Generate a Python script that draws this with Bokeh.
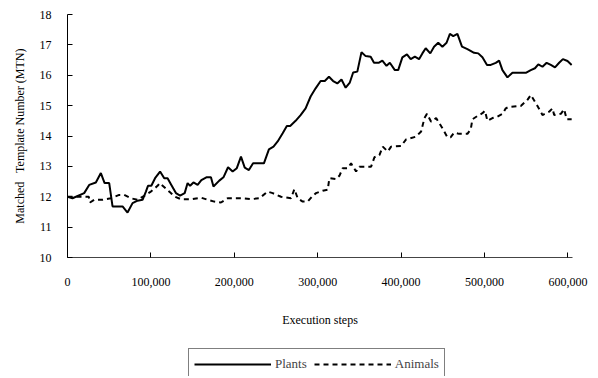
from bokeh.plotting import figure
from bokeh.layouts import column
from bokeh.models import Range1d, FixedTicker, NumeralTickFormatter, Legend, LegendItem
from bokeh.embed import file_html
from bokeh.resources import INLINE

plants_steps = [0, 6000, 20000, 26000, 34000, 40000, 44500, 50000, 54000, 66000, 72000, 78000,
                84000, 90000, 94000, 96500, 100500, 105000, 111000, 116000, 120000, 124500,
                130000, 135000, 140500, 144000, 147000, 151000, 156000, 160500, 166500, 172000,
                175000, 182000, 187000, 192500, 198000, 203000, 208000, 212500, 217500, 222500,
                235500, 241500, 247000, 252000, 258000, 263000, 267000, 273500, 279500, 285500,
                291500, 297500, 303500, 308500, 313500, 318500, 323500, 328500, 333500, 338500,
                342500, 347500, 352500, 357500, 363500, 367500, 373000, 377500, 382500, 386500,
                392500, 396500, 401500, 407000, 411500, 416500, 421500, 425500, 429500, 435000,
                439500, 444500, 449500, 454500, 458500, 462500, 467500, 473000, 479500, 487500,
                492500, 497500, 503000, 507500, 513500, 517500, 521500, 527500, 533500, 549500,
                555500, 560500, 564500, 569500, 574500, 579500, 584500, 589500, 594000, 599500,
                604500]
plants_mtn = [12.0, 11.95, 12.12, 12.39, 12.47, 12.78, 12.45, 12.45, 11.68, 11.68, 11.48, 11.79,
              11.87, 11.9, 12.17, 12.36, 12.36, 12.61, 12.83, 12.61, 12.61, 12.39,
              12.12, 12.04, 12.12, 12.45, 12.36, 12.47, 12.39, 12.55, 12.64, 12.64,
              12.34, 12.53, 12.64, 12.97, 12.83, 12.94, 13.32, 12.96, 12.88, 13.1,
              13.1, 13.56, 13.65, 13.82, 14.09, 14.33, 14.33, 14.5, 14.69, 14.91,
              15.3, 15.57, 15.81, 15.81, 15.95, 15.81, 15.73, 15.86, 15.59, 15.76,
              16.09, 16.12, 16.76, 16.63, 16.61, 16.41, 16.41, 16.48, 16.31, 16.41,
              16.17, 16.17, 16.59, 16.69, 16.53, 16.61, 16.53, 16.72, 16.89, 16.72,
              16.94, 17.07, 16.94, 17.07, 17.36, 17.29, 17.36, 16.94, 16.86, 16.74,
              16.72, 16.59, 16.34, 16.34, 16.41, 16.48, 16.17, 15.93, 16.08, 16.08,
              16.17, 16.23, 16.36, 16.28, 16.41, 16.34, 16.26, 16.41, 16.53, 16.47,
              16.34]

animals_steps = [0, 25500, 27000, 32000, 42000, 52000, 62000, 68000, 76000, 84000, 92000,
                 100000, 108000, 110500, 120000, 124000, 130000, 136000, 148000, 160000,
                 168000, 176000, 184000, 192000, 208000, 220000, 230000, 240000, 246000,
                 256000, 268000, 272000, 276000, 282000, 288000, 294000, 298000, 306000,
                 312000, 314000, 322000, 326000, 330000, 336000, 340000, 346000, 350000,
                 364000, 368000, 374000, 378000, 384000, 388000, 400000, 406000, 418000,
                 424000, 428000, 431000, 436000, 442000, 449000, 455500, 459500, 463500,
                 469500, 479500, 483500, 485500, 491500, 497500, 500500, 503500, 509500,
                 515500, 521500, 525500, 528500, 543500, 551500, 555500, 563500, 569500,
                 577500, 581500, 583500, 591500, 595500, 598500, 604500]
animals_mtn = [12.0, 12.0, 11.81, 11.9, 11.9, 11.95, 12.06, 12.06, 11.95, 11.9, 12.03,
               12.17, 12.36, 12.45, 12.22, 12.12, 11.99, 11.92, 11.92, 11.97,
               11.9, 11.84, 11.81, 11.95, 11.95, 11.92, 11.95, 12.17, 12.12,
               12.0, 11.95, 12.25, 11.95, 11.84, 11.84, 12.03, 12.12, 12.2,
               12.23, 12.61, 12.58, 12.69, 12.94, 12.94, 13.1, 12.83, 12.99,
               12.99, 13.3, 13.37, 13.65, 13.49, 13.65, 13.67, 13.89, 13.98,
               14.15, 14.59, 14.73, 14.47, 14.59, 14.28, 13.96, 13.96, 14.11,
               14.07, 14.07, 14.22, 14.55, 14.66, 14.75, 14.83, 14.5, 14.59,
               14.64, 14.73, 14.91, 14.95, 14.99, 15.19, 15.35, 14.99, 14.69,
               14.8, 14.91, 14.69, 14.73, 14.88, 14.55, 14.55]

x_ticks = [0, 100000, 200000, 300000, 400000, 500000, 600000]
y_ticks = [10, 11, 12, 13, 14, 15, 16, 17, 18]
series_names = ["Plants", "Animals"]

FONT = "Liberation Serif"
DASH = "5 4"

p = figure(width=596, height=345, output_backend="svg", toolbar_location=None,
           x_range=Range1d(0, 605500), y_range=Range1d(10, 18),
           min_border_left=67, min_border_right=24, min_border_top=14, min_border_bottom=88)
p.outline_line_color = None
p.xgrid.grid_line_color = None
p.ygrid.grid_line_color = None

p.line(plants_steps, plants_mtn, line_color="black", line_width=2)
p.line(animals_steps, animals_mtn, line_color="black", line_width=2, line_dash=DASH)

for ax in (p.xaxis[0], p.yaxis[0]):
    ax.major_tick_in = 5
    ax.major_tick_out = 0
    ax.minor_tick_in = 0
    ax.minor_tick_out = 0
    ax.axis_line_color = "black"
    ax.major_tick_line_color = "black"
    ax.major_label_text_font = FONT
    ax.major_label_text_font_size = "12px"
    ax.major_label_text_color = "black"
    ax.axis_label_text_font = FONT
    ax.axis_label_text_font_size = "12px"
    ax.axis_label_text_font_style = "normal"
    ax.axis_label_text_color = "black"

p.xaxis.ticker = FixedTicker(ticks=x_ticks)
p.xaxis.formatter = NumeralTickFormatter(format="0,0")
p.xaxis.major_label_standoff = 20
p.xaxis.axis_label = "Execution steps"
p.xaxis.axis_label_standoff = 24
p.xaxis.axis_line_color = "#444444"

p.yaxis.ticker = FixedTicker(ticks=y_ticks)
p.yaxis.major_label_standoff = 16
p.yaxis.axis_label = "Matched \u00a0 Template Number (MTN)"
p.yaxis.axis_label_standoff = 10

# Legend strip below the chart (its series lie outside this strip's ranges,
# so only the legend box is visible)
q = figure(width=596, height=31, output_backend="svg", toolbar_location=None,
           x_range=Range1d(0, 1), y_range=Range1d(0, 1),
           x_axis_location=None, y_axis_location=None,
           min_border_left=67, min_border_right=24, min_border_top=0, min_border_bottom=0)
q.outline_line_color = None
q.xgrid.grid_line_color = None
q.ygrid.grid_line_color = None
k1 = q.line(plants_steps, plants_mtn, line_color="black", line_width=2)
k2 = q.line(animals_steps, animals_mtn, line_color="black", line_width=2, line_dash=DASH)

legend = Legend(items=[LegendItem(label=series_names[0], renderers=[k1]),
                       LegendItem(label=series_names[1], renderers=[k2])],
                orientation="horizontal", location=(121, -4),
                glyph_width=77, glyph_height=20, label_height=20, label_standoff=4,
                spacing=7, padding=5, margin=0,
                label_text_font=FONT, label_text_font_size="13px",
                border_line_color="black", border_line_width=1,
                background_fill_alpha=1.0)
q.add_layout(legend, "center")

layout = column(p, q, spacing=0)
open("out.html", "w").write(file_html(layout, INLINE))
